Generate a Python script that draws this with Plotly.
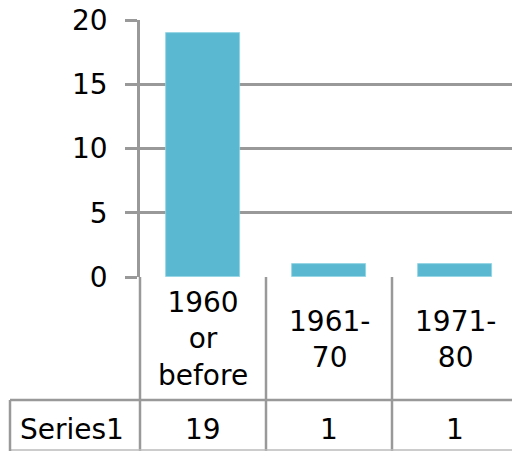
import plotly.graph_objects as go

# データ
categories = ["1960<br>or<br>before", "1961-<br>70", "1971-<br>80"]
values = [19, 1, 1]
series_name = "Series1"
y_ticks = [0, 5, 10, 15, 20]

BAR_COLOR = "#5AB9D0"
LINE_COLOR = "#999999"
TEXT_COLOR = "#000000"
FONT = "DejaVu Sans"
FONT_SIZE = 28

# ピクセル -> paper座標 (プロット領域: x 140..512, y 20..277)
W, H = 512, 451
L, T, B = 140, 20, 277


def px_x(p):
    return (p - L) / (W - L)


def px_y(p):
    return (B - p) / (B - T)


fig = go.Figure()

fig.add_trace(go.Bar(
    x=list(range(len(values))),
    y=values,
    width=0.587,
    marker=dict(color=BAR_COLOR, line=dict(color="#8FD3E3", width=0.8)),
    showlegend=False,
    hoverinfo="skip",
))

shapes = []
# 表の縦線（カテゴリ境界）
for i in range(len(values)):
    shapes.append(dict(type="line", xref="x", yref="paper",
                       x0=i + 0.5, x1=i + 0.5, y0=0, y1=px_y(451),
                       line=dict(color=LINE_COLOR, width=2.5)))
# 軸線の延長
shapes.append(dict(type="line", xref="paper", yref="paper",
                   x0=0, x1=0, y0=0, y1=px_y(451),
                   line=dict(color=LINE_COLOR, width=2.5)))
# 行の区切り
shapes.append(dict(type="line", xref="paper", yref="paper",
                   x0=px_x(10), x1=1, y0=px_y(400), y1=px_y(400),
                   line=dict(color=LINE_COLOR, width=2.5)))
shapes.append(dict(type="line", xref="paper", yref="paper",
                   x0=px_x(10), x1=1, y0=px_y(450), y1=px_y(450),
                   line=dict(color="#BBBBBB", width=1.5)))
# 表の左端
shapes.append(dict(type="line", xref="paper", yref="paper",
                   x0=px_x(10), x1=px_x(10), y0=px_y(400), y1=px_y(451),
                   line=dict(color=LINE_COLOR, width=2.5)))

font = dict(size=FONT_SIZE, color=TEXT_COLOR, family=FONT)
annotations = []
for i, (cat, val) in enumerate(zip(categories, values)):
    annotations.append(dict(x=i, y=px_y(339), xref="x", yref="paper",
                            text=cat, showarrow=False,
                            xanchor="center", yanchor="middle", font=font))
    annotations.append(dict(x=i, y=px_y(429), xref="x", yref="paper",
                            text=str(val), showarrow=False,
                            xanchor="center", yanchor="middle", font=font))
annotations.append(dict(x=px_x(72), y=px_y(429), xref="paper", yref="paper",
                        text=series_name, showarrow=False,
                        xanchor="center", yanchor="middle", font=font))

fig.update_layout(
    width=W, height=H,
    margin=dict(l=L, r=0, t=T, b=H - B, pad=0, autoexpand=False),
    plot_bgcolor="#FFFFFF",
    paper_bgcolor="#FFFFFF",
    bargap=0,
    xaxis=dict(
        range=[-0.5, -0.5 + (W - L) / 126],
        showticklabels=False,
        showgrid=False,
        zeroline=False,
        showline=False,
        ticks="",
        automargin=False,
    ),
    yaxis=dict(
        range=[0, 20],
        tickvals=y_ticks,
        ticks="outside",
        ticklen=12,
        tickwidth=2.5,
        tickcolor=LINE_COLOR,
        ticklabelstandoff=12,
        tickfont=font,
        showgrid=True,
        gridcolor=LINE_COLOR,
        gridwidth=2.5,
        zeroline=False,
        showline=True,
        linecolor=LINE_COLOR,
        linewidth=2.5,
        automargin=False,
    ),
    shapes=shapes,
    annotations=annotations,
)

# ページの余白を消す
fig.write_html(
    "out.html",
    config={"displayModeBar": False},
    post_script="document.body.style.margin='0';document.body.style.overflow='hidden';",
)
